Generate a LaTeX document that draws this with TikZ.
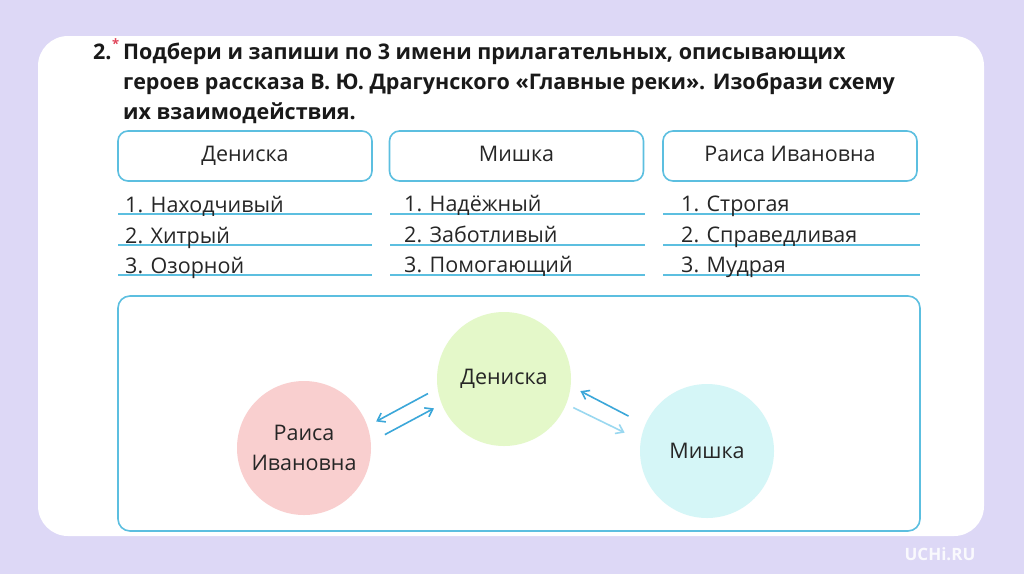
\documentclass[tikz,border=0pt]{standalone}
\usepackage{fontspec}
\setmainfont{Open Sans}
\usetikzlibrary{arrows.meta,positioning}
\definecolor{bgviolet}{HTML}{DDD8F6}
\definecolor{lineblue}{HTML}{5CBFE0}
\definecolor{arrblue}{HTML}{3BA7D9}
\definecolor{arrlight}{HTML}{9AD8F0}
\definecolor{dengreen}{HTML}{E4F8C9}
\definecolor{raipink}{HTML}{F9CFCF}
\definecolor{miscyan}{HTML}{D5F6F7}
\definecolor{starred}{HTML}{E0455A}

\begin{document}
\begin{tikzpicture}[x=1pt, y=-1pt,
  font=\fontsize{21.5}{30}\selectfont,
  namebox/.style={draw=lineblue, line width=1.6pt, rounded corners=10pt, minimum width=254pt, minimum height=50pt, inner sep=0pt, text height=15pt, text depth=5pt, text=black!85},
  item/.style={anchor=base west, inner sep=0pt, text=black!85},
  hero/.style={circle, minimum size=134pt, inner sep=0pt, outer sep=0pt, align=center, text=black!85},
  rule/.style={draw=lineblue, line width=1.8pt},
  arr/.style={draw=arrblue, line width=1.6pt, -{Straight Barb[length=7pt,width=10pt]}}]
\useasboundingbox (0,0) rectangle (1024,574);
% page and white sheet
\fill[bgviolet] (0,0) rectangle (1024,574);
\fill[white, rounded corners=30pt] (38,36) rectangle (984,536);
% task text
\node[anchor=base west, inner sep=0pt, font=\bfseries\fontsize{21.5}{30}\selectfont, text=black!90] (num) at (93,59) {2.};
\node[anchor=west, inner sep=0pt, text=starred, font=\bfseries\fontsize{13}{13}\selectfont] (star) at (112,44) {*};
\node[anchor=base west, inner sep=0pt, align=left, font=\bfseries\fontsize{21.5}{30}\selectfont, text=black!90] (task) at (123,119)
  {Подбери и запиши по 3 имени прилагательных, описывающих\\героев рассказа В. Ю. Драгунского «Главные реки». Изобрази схему\\их взаимодействия.};
% heroes and their words
\node[namebox] (nden) at (245,156) {Дениска};
\node[namebox] (nmis) at (516.5,156) {Мишка};
\node[namebox] (nrai) at (790,156) {Раиса Ивановна};
\foreach \y in {214,245,275} {
  \draw[rule] (118,\y) -- (372,\y);
  \draw[rule] (390,\y) -- (645,\y);
  \draw[rule] (663,\y) -- (920,\y);
}
\node[item] (d1) at (125,212) {1. Находчивый};
\node[item] (d2) at (125,243) {2. Хитрый};
\node[item] (d3) at (125,273) {3. Озорной};
\node[item] (m1) at (404,211) {1. Надёжный};
\node[item] (m2) at (404,242) {2. Заботливый};
\node[item] (m3) at (404,272) {3. Помогающий};
\node[item] (r1) at (681,211) {1. Строгая};
\node[item] (r2) at (681,242) {2. Справедливая};
\node[item] (r3) at (681,272) {3. Мудрая};
% scheme
\draw[draw=lineblue, line width=1.6pt, rounded corners=12pt] (118,296) rectangle (920,531);
\node[hero, fill=dengreen] (den) at (504,379) {Дениска};
\node[hero, fill=raipink] (rai) at (304,448) {Раиса\\Ивановна};
\node[hero, fill=miscyan] (mis) at (707,451) {Мишка};
\draw[arr, shorten <=11pt, shorten >=10pt] (den.188) -- (rai.19);
\draw[arr, shorten <=16pt, shorten >=9pt] (rai.5) -- (den.202);
\draw[arr, shorten <=19pt, shorten >=11pt] (mis.157) -- (den.354);
\draw[arr, draw=arrlight, shorten <=8pt, shorten >=18pt] (den.338) -- (mis.171);
% watermark
\node[text=white, opacity=0.85, font=\bfseries\fontsize{17}{17}\selectfont] (uchi) at (940,554) {UCHi.RU};
\end{tikzpicture}
\end{document}
